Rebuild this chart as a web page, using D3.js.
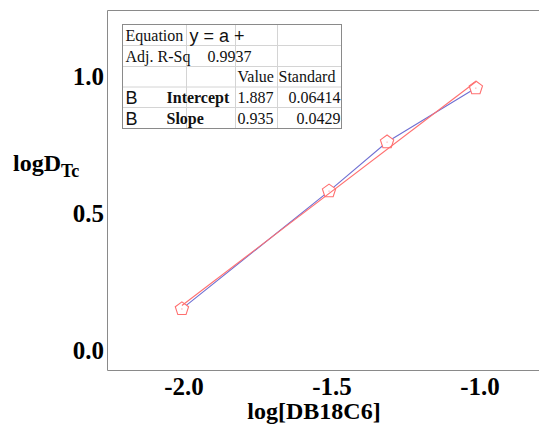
<!DOCTYPE html>
<html><head><meta charset="utf-8">
<script src="https://cdn.jsdelivr.net/npm/d3@7"></script>
<style>body{margin:0;background:#fff}svg{display:block}</style>
</head><body>
<script>
const logDB = [-2.007, -1.51, -1.314, -1.014];
const logD = [0.150, 0.580, 0.759, 0.956];
const xTicks = [-2.0, -1.5, -1.0];
const yTicks = [0.0, 0.5, 1.0];
const tableRows = [
  ["Equation", "y = a +", "", ""],
  ["Adj. R-Sq", "0.9937", "", ""],
  ["", "", "Value", "Standard"],
  ["B", "Intercept", "1.887", "0.06414"],
  ["B", "Slope", "0.935", "0.0429"]
];

const W = 539, H = 425;
const svg = d3.select("body").append("svg").attr("width", W).attr("height", H);

const x = d3.scaleLinear().domain([-2.0, -1.0]).range([184, 480]);
const y = d3.scaleLinear().domain([0.0, 1.0]).range([350, 76]);

// frame
svg.append("path").attr("d", "M107.5,10.5H539M107.5,10.5V370.5H539")
  .attr("fill", "none").attr("stroke", "#8a8a8a").attr("stroke-width", 1);

// tick labels
svg.selectAll(".yt").data(yTicks).join("text")
  .attr("x", 104).attr("y", d => y(d)).attr("dy", "0.35em")
  .attr("text-anchor", "end")
  .style("font", "bold 25px 'Liberation Serif', serif")
  .text(d => d3.format(".1f")(d));
svg.selectAll(".xt").data(xTicks).join("text")
  .attr("x", d => x(d)).attr("y", 395)
  .attr("text-anchor", "middle")
  .style("font", "bold 25px 'Liberation Serif', serif")
  .text(d => d3.format(".1f")(d).replace("−", "-"));

// axis titles
svg.append("text").attr("x", 314).attr("y", 419).attr("text-anchor", "middle")
  .style("font", "bold 24px 'Liberation Serif', serif").text("log[DB18C6]");
const yt = svg.append("text").attr("x", 13).attr("y", 171)
  .style("font", "bold 24px 'Liberation Serif', serif");
yt.append("tspan").text("logD");
yt.append("tspan").attr("dy", 6).style("font-size", "18px").text("Tc");

// linear fit (least squares)
const mx = d3.mean(logDB), my = d3.mean(logD);
const b = d3.sum(logDB.map((v, i) => (v - mx) * (logD[i] - my))) / d3.sum(logDB.map(v => (v - mx) ** 2));
const a = my - b * mx;
const xr = d3.extent(logDB);

// data line (blue)
svg.append("path").datum(logDB.map((v, i) => [v, logD[i]]))
  .attr("d", d3.line().x(d => x(d[0])).y(d => y(d[1])))
  .attr("fill", "none").attr("stroke", "#6f6fd2").attr("stroke-width", 1.1);

// pentagon markers
const pent = d3.range(5).map(k => {
  const ang = -Math.PI / 2 + k * 2 * Math.PI / 5;
  return [7 * Math.cos(ang), 7 * Math.sin(ang)];
});
const g = svg.selectAll(".pt").data(logDB.map((v, i) => [v, logD[i]])).join("g")
  .attr("transform", d => `translate(${x(d[0])},${y(d[1])})`);
g.append("path").attr("d", d3.line()(pent) + "Z")
  .attr("fill", "#fff").attr("stroke", "#ff6f6f").attr("stroke-width", 1.1);
g.append("circle").attr("r", 0.6).attr("fill", "#ff8f8f");

// fit line (red)
svg.append("path").datum(xr.map(v => [v, a + b * v]))
  .attr("d", d3.line().x(d => x(d[0])).y(d => y(d[1])))
  .attr("fill", "none").attr("stroke", "#ff6f6f").attr("stroke-width", 1.1);

// table
const tx = 122.5, ty = 24.5;
const colX = [0, 64, 113, 155, 219];
const rowY = [0, 21, 42, 62.5, 83, 104];
const tg = svg.append("g").attr("transform", `translate(${tx},${ty})`);
tg.append("rect").attr("width", colX[4]).attr("height", rowY[5]).attr("fill", "#fff");
tg.selectAll(".hl").data(rowY.slice(1, 5)).join("line")
  .attr("x1", 0).attr("x2", colX[4]).attr("y1", d => d).attr("y2", d => d)
  .attr("stroke", "#d4d4d4");
tg.selectAll(".vl").data(colX.slice(1, 4)).join("line")
  .attr("x1", d => d).attr("x2", d => d).attr("y1", 0).attr("y2", rowY[5])
  .attr("stroke", "#d4d4d4");
tg.append("rect").attr("width", colX[4]).attr("height", rowY[5])
  .attr("fill", "none").attr("stroke", "#8a8a8a");

const serif = "'Liberation Serif', serif", sans = "'Liberation Sans', Arial, sans-serif";
const cells = [];
tableRows.forEach((r, i) => {
  const by = (rowY[i] + rowY[i + 1]) / 2 + 5.5;
  if (i === 0) {
    cells.push({t: r[0], x: 3, y: by, f: `16px ${serif}`});
    cells.push({t: r[1], x: 67, y: by + 1, f: `18px ${sans}`});
  } else if (i === 1) {
    cells.push({t: r[0], x: 3, y: by, f: `16px ${serif}`});
    cells.push({t: r[1], x: 85, y: by, f: `16px ${serif}`});
  } else if (i === 2) {
    cells.push({t: r[2], x: 115, y: by, f: `16px ${serif}`});
    cells.push({t: r[3], x: 156, y: by, f: `16px ${serif}`});
  } else {
    cells.push({t: r[0], x: 3, y: by + 1, f: `18px ${sans}`});
    cells.push({t: r[1], x: 44, y: by, f: `bold 16px ${serif}`});
    cells.push({t: r[2], x: 115, y: by, f: `16px ${serif}`});
    cells.push({t: r[3], x: 218, y: by, f: `16px ${serif}`, end: true});
  }
});
tg.selectAll(".ct").data(cells).join("text")
  .attr("x", d => d.x).attr("y", d => d.y)
  .attr("text-anchor", d => d.end ? "end" : "start")
  .style("font", d => d.f).attr("fill", "#111").text(d => d.t);
</script>
</body></html>
